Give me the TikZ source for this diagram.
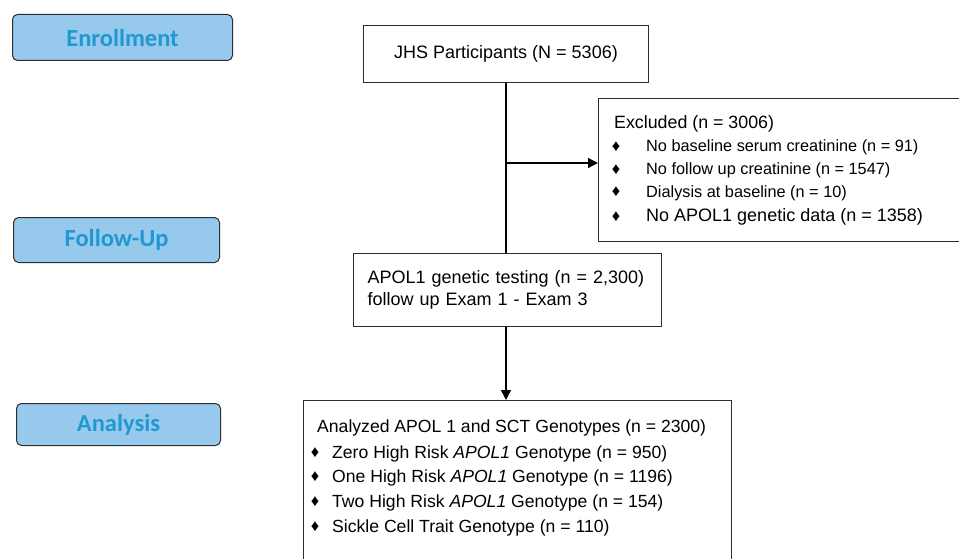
\documentclass[tikz,border=0pt]{standalone}
\usepackage{fontspec}
\setmainfont{Liberation Sans}
\newfontfamily\stagefont{Carlito}
\usepackage{xcolor}
\definecolor{stageblue}{RGB}{150,201,235}
\definecolor{stagetext}{RGB}{32,152,210}
\definecolor{boxgray}{RGB}{45,45,45}
\usetikzlibrary{arrows.meta}
\newcommand{\bul}{\char"2666}
\tikzset{
    common/.style={draw=boxgray, rectangle, anchor=north west, inner sep=0pt, line width=1pt},
    stage/.style={common, rounded corners=5pt, fill=stageblue, text=stagetext,
        font=\stagefont\bfseries\fontsize{24.5}{28}\selectfont},
    flowbox/.style={common, font=\fontsize{18}{22}\selectfont},
    line/.style={draw=black, line width=1.4pt},
    arrow/.style={line, -{Triangle[length=10pt, width=10pt]}},
    textline/.style={anchor=base west, inner sep=0pt},
    bullet/.style={anchor=center, inner sep=0pt, font=\fontsize{16.5}{18}\selectfont}
}

\begin{document}
\begin{tikzpicture}[x=1pt, y=-1pt]

      \useasboundingbox (0,0) rectangle (959,559);

      \newcommand\exitem[4]{
        \path
          (#1)
          +(0,-5.5) node[bullet] {\bul}
          +(30,0) node[textline, font=\fontsize{#3}{#3}\selectfont] (#2) {#4};
      }

      \newcommand\anitem[3]{
        \path
          (#1)
          +(0,-5.5) node[bullet] {\bul}
          +(17,0) node[textline, font=\fontsize{17.6}{20}\selectfont] (#2) {#3};
      }

      % study stages
      \node[stage, minimum width=220pt, minimum height=46pt] (enrollment) at (12,14) {Enrollment};
      \node[stage, minimum width=206pt, minimum height=45pt] (follow-up) at (13,217) {Follow-Up};
      \node[stage, minimum width=204pt, minimum height=42pt] (analysis) at (16,403) {Analysis};

      % flow boxes
      \node[flowbox, minimum width=285pt, minimum height=57pt] (jhs) at (363,25) {JHS Participants (N = 5306)};
      \node[flowbox, minimum width=370pt, minimum height=143pt] (excluded) at (598,98) {};
      \node[flowbox, text width=280pt, inner xsep=14pt, minimum height=73pt, align=left] (apol-testing) at (353,253)
          {APOL1 genetic testing (n = 2,300)\\follow up Exam 1 - Exam 3};
      \node[flowbox, minimum width=428pt, minimum height=170pt] (analyzed) at (303,400) {};

      % excluded participants
      \path (excluded.north west) ++(16,31) node[textline, font=\fontsize{17.8}{20}\selectfont] (ex-title) {Excluded (n = 3006)};
      \exitem{616,152}{ex-baseline}{16.3}{No baseline serum creatinine (n = 91)}
      \exitem{616,175}{ex-follow-up}{16.3}{No follow up creatinine (n = 1547)}
      \exitem{616,197}{ex-dialysis}{16.3}{Dialysis at baseline (n = 10)}
      \exitem{616,222}{ex-genetic}{18}{No APOL1 genetic data (n = 1358)}

      % analyzed genotypes
      \path (analyzed.north west) ++(14,32) node[textline, font=\fontsize{17.6}{20}\selectfont] (an-title) {Analyzed APOL 1 and SCT Genotypes (n = 2300)};
      \anitem{315,458}{an-zero}{Zero High Risk \textit{APOL1} Genotype (n = 950)}
      \anitem{315,482}{an-one}{One High Risk \textit{APOL1} Genotype (n = 1196)}
      \anitem{315,507}{an-two}{Two High Risk \textit{APOL1} Genotype (n = 154)}
      \anitem{315,532}{an-sct}{Sickle Cell Trait Genotype (n = 110)}

      \coordinate (branch) at (jhs.south |- 0,163);

      \draw[line] (jhs.south) -- (jhs.south |- apol-testing.north);
      \draw[arrow] (branch) -- (branch -| excluded.west);
      \draw[arrow] (jhs.south |- apol-testing.south) -- (jhs.south |- analyzed.north);
    \end{tikzpicture}
\end{document}
